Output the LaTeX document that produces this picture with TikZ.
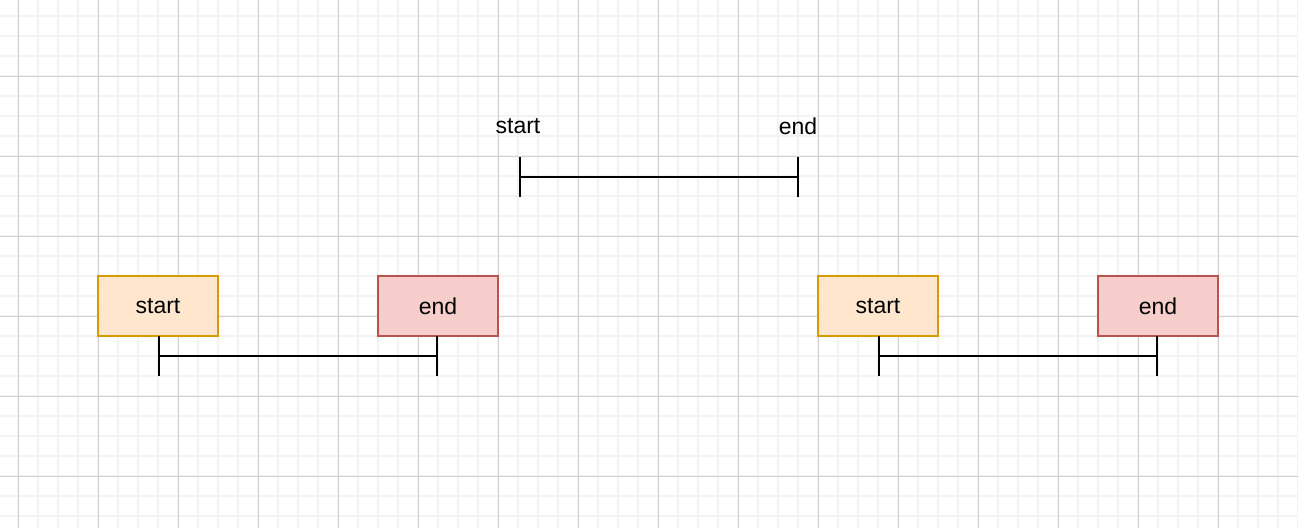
\documentclass[tikz,border=0pt]{standalone}
\usepackage{fontspec}
\setmainfont{Liberation Sans}
\usetikzlibrary{arrows.meta,positioning,calc}

\definecolor{startfill}{HTML}{FFE6CC}
\definecolor{startline}{HTML}{D79B00}
\definecolor{endfill}{HTML}{F8CECC}
\definecolor{endline}{HTML}{B85450}
\definecolor{minorgrid}{HTML}{F3F3F3}
\definecolor{majorgrid}{HTML}{D0D0D0}

\tikzset{
  labeltext/.style={font=\fontsize{23}{28}\selectfont, inner sep=0pt},
  box/.style={labeltext, draw, line width=2pt, outer sep=0pt,
    minimum width=120pt, minimum height=60pt},
  startbox/.style={box, fill=startfill, draw=startline},
  endbox/.style={box, fill=endfill, draw=endline},
  interval/.style={line width=2pt, {Bar[width=40pt]}-{Bar[width=40pt]}},
}

\begin{document}
\begin{tikzpicture}[x=1pt, y=-1pt]

  \useasboundingbox (0,0) rectangle (1298,528);
  \fill[white] (0,0) rectangle (1298,528);

  % grid
  \foreach \gx in {-2,18,...,1298}
    \draw[minorgrid, line width=2pt] (\gx,0) -- (\gx,528);
  \foreach \gy in {16,36,...,528}
    \draw[minorgrid, line width=2pt] (0,\gy) -- (1298,\gy);
  \foreach \gx in {18,98,...,1298}
    \draw[majorgrid, line width=1pt] (\gx,0) -- (\gx,528);
  \foreach \gy in {76,156,...,528}
    \draw[majorgrid, line width=1pt] (0,\gy) -- (1298,\gy);

  % top interval with plain labels
  \coordinate (ta) at (519,177);
  \coordinate (tb) at (799,177);
  \node[labeltext] (tstart) at (518,126) {start};
  \node[labeltext] (tend) at (798,126) {end};
  \draw[interval] (ta) -- (tb);

  % left pair
  \node[startbox] (s1) at (158,306) {start};
  \node[endbox, right=160pt of s1] (e1) {end};
  \draw[interval] ($(s1.south)+(0,20)$) -- ($(e1.south)+(0,20)$);

  % right pair
  \node[startbox, right=320pt of e1] (s2) {start};
  \node[endbox, right=160pt of s2] (e2) {end};
  \draw[interval] ($(s2.south)+(0,20)$) -- ($(e2.south)+(0,20)$);

\end{tikzpicture}
\end{document}
